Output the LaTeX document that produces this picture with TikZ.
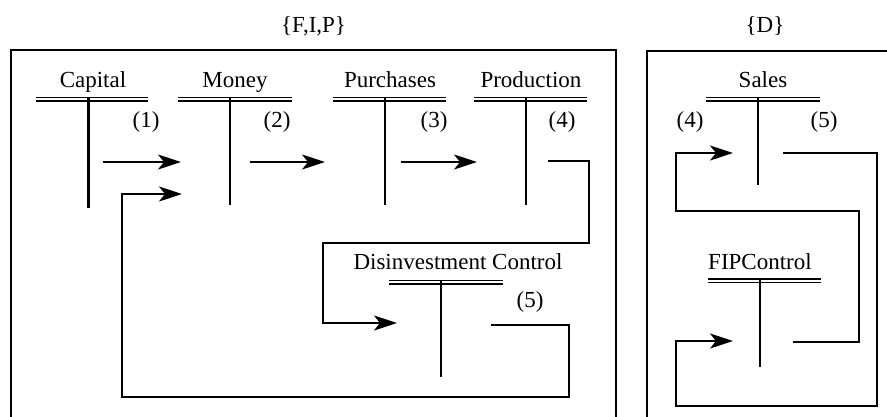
\documentclass[tikz,border=0pt]{standalone}
\usepackage{fontspec}
\setmainfont{Liberation Serif}
\usetikzlibrary{arrows.meta}
\begin{document}
\begin{tikzpicture}[x=1pt,y=-1pt,
  lbl/.style={inner sep=0pt,anchor=base,font=\fontsize{23}{27}\selectfont},
  num/.style={inner sep=0pt,anchor=base,font=\fontsize{23}{27}\selectfont},
  frame/.style={line width=2pt},
  arr/.style={line width=2pt,-{Stealth[length=23pt,width=15pt,inset=6pt]}},
  dbl/.style={line width=1.3pt},
  stem/.style={line width=2pt}]
\useasboundingbox (0,0) rectangle (887,416);
\clip (0,0) rectangle (887,416);

% titles
\node[lbl] (tFIP) at (313.5,32) {\{F,I,P\}};
\node[lbl] (tD) at (765,32) {\{D\}};

% frames
\draw[frame] (11,50) rectangle (616,430);
\draw[frame] (647,51) rectangle (900,430);

% T-accounts: name, center x, text baseline y, text, line left, line right, line y, stem x, stem bottom
\newcommand{\taccount}[9]{%
  \node[lbl] (#1) at (#2,#3) {#4};
  \draw[dbl] (#5,#7) -- (#6,#7);
  \draw[dbl] (#5,#7+3.6) -- (#6,#7+3.6);
  \coordinate (#1top) at (#8,#7);
  \coordinate (#1bot) at (#8,#9);
  \draw[stem] (#1top) -- (#1bot);
}
\taccount{cap}{93}{87}{Capital}{36}{148}{97.3}{88}{208}
\taccount{mon}{235}{87}{Money}{178}{292}{97.3}{230}{205}
\taccount{pur}{390}{87}{Purchases}{333}{446}{97.3}{385}{205}
\taccount{pro}{531}{87}{Production}{474}{587}{97.3}{526}{205}
\taccount{dis}{458}{269}{Disinvestment Control}{389}{503}{280.5}{441}{377}
\taccount{sal}{763}{87}{Sales}{706}{820}{97.3}{758}{185}
\taccount{fip}{760}{269}{FIPControl}{708}{821}{279}{760}{367}
\draw[line width=3pt] (captop) -- (capbot);

% flow numbers
\node[num] (n1) at (146,127) {(1)};
\node[num] (n2) at (277,127) {(2)};
\node[num] (n3) at (434,127) {(3)};
\node[num] (n4) at (562,127) {(4)};
\node[num] (n5) at (530,307) {(5)};
\node[num] (n4b) at (690,127) {(4)};
\node[num] (n5b) at (824,127) {(5)};

% connector endpoints
\coordinate (a1s) at (103,162); \coordinate (a1e) at (181,162);
\coordinate (a2s) at (250,162); \coordinate (a2e) at (325,162);
\coordinate (a3s) at (401,162); \coordinate (a3e) at (477,162);
\coordinate (p4s) at (548,161); \coordinate (d4e) at (397,323);
\coordinate (d5s) at (491,325); \coordinate (c5e) at (182,194);
\coordinate (s5s) at (783,153); \coordinate (f5e) at (733,341);
\coordinate (f4s) at (793,342); \coordinate (s4e) at (733,153);

\draw[arr] (a1s) -- (a1e);
\draw[arr] (a2s) -- (a2e);
\draw[arr] (a3s) -- (a3e);
\draw[arr] (p4s) -- (589,161) -- (589,243) -- (323,243) -- (323,323) -- (d4e);
\draw[arr] (d5s) -- (569,325) -- (569,396.5) -- (122,396.5) -- (122,194) -- (c5e);
\draw[arr] (s5s) -- (877,153) -- (877,406) -- (676,406) -- (676,341) -- (f5e);
\draw[arr] (f4s) -- (859,342) -- (859,211) -- (676,211) -- (676,153) -- (s4e);
\end{tikzpicture}
\end{document}
